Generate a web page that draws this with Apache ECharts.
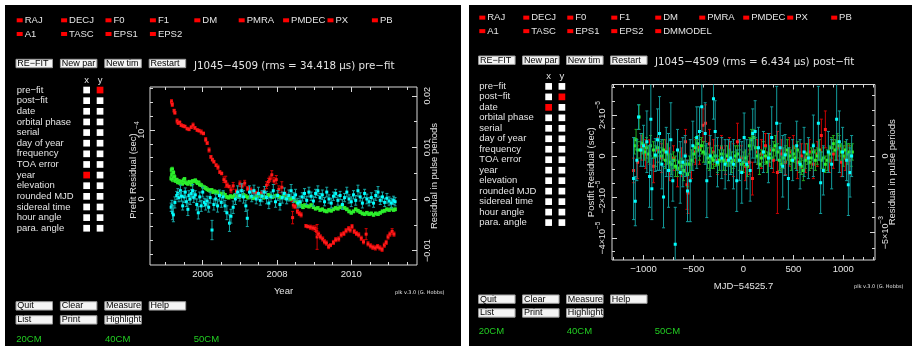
<!DOCTYPE html>
<html><head><meta charset="utf-8">
<script src="https://cdn.jsdelivr.net/npm/echarts@6/dist/echarts.min.js"></script>
<style>html,body{margin:0;padding:0;background:#fff}#c{width:912px;height:350px}</style>
</head><body><div id="c"></div>
<script>
// ---------------- data ----------------
const pulsePeriodUs = 7474.2; // J1045-4509 period in microseconds (for right-hand axis)
const paramRow1 = ['RAJ','DECJ','F0','F1','DM','PMRA','PMDEC','PX','PB'];
const paramRow2Left = ['A1','TASC','EPS1','EPS2'];
const paramRow2Right = ['A1','TASC','EPS1','EPS2','DMMODEL'];
const menuLabels = ['pre−fit','post−fit','date','orbital phase','serial','day of year','frequency','TOA error','year','elevation','rounded MJD','sidereal time','hour angle','para. angle'];
const buttonsTop = ['RE−FIT','New par','New tim','Restart'];
const buttonsBottom1 = ['Quit','Clear','Measure','Help'];
const buttonsBottom2 = ['List','Print','Highlight'];
const flagLabels = ['20CM','40CM','50CM'];
const titleLeft = 'J1045−4509 (rms = 34.418 μs) pre−fit';
const titleRight = 'J1045−4509 (rms = 6.434 μs) post−fit';
const xNameLeft = 'Year';
const xNameRight = 'MJD−54525.7';
const yNameLeft = 'Prefit Residual (sec)';
const yNameRight = 'Postfit Residual (sec)';
const y2Name = 'Residual in pulse periods';
const plkTag = 'plk v.3.0 (G. Hobbs)';

// tick labels
const leftYearLabels = [2006, 2008, 2010];
const leftResLabels = [0, 100];              // microseconds (0, 1e-4 s)
const leftPeriodLabels = [-0.01, 0, 0.01, 0.02];
const rightDayLabels = [-1000, -500, 0, 500, 1000];
const rightResLabels = [-40, -20, 0, 20];    // microseconds
const rightPeriodLabels = [-0.005, 0];

// Left: pre-fit residuals vs year  [year, residual (us), error (us)]
const leftRed = [
[2005.16,141,3],[2005.18,137,3],[2005.23,128,2],[2005.25,125,2],[2005.31,113,3],[2005.34,110,2],[2005.38,111,2],[2005.42,107,2],[2005.47,106,2],[2005.52,105,2],[2005.58,102,2],[2005.63,101,2],[2005.69,104,2],[2005.74,107,3],[2005.79,103,2],[2005.85,100,2],[2005.90,99,2],[2005.96,97,3],[2006.02,95,2],[2006.08,86,3],[2006.12,81,2],[2006.17,71,3],[2006.22,61,2],[2006.26,57,2],[2006.30,54,2],[2006.36,49,2],[2006.41,46,3],[2006.46,39,2],[2006.51,37,2],[2006.57,28,4],[2006.62,25,8],[2006.66,20,3],[2006.71,18,2],[2006.76,13,4],[2006.82,19,5],[2006.91,11,3],[2007.00,22,4],[2007.06,19,3],[2007.13,23,4],[2007.21,15,3],[2007.29,13,3],[2007.37,11,3],[2007.44,8,3],[2007.51,6,3],[2007.59,8,3],[2007.66,11,3],[2007.72,20,5],[2007.77,25,5],[2007.81,29,4],[2007.86,35,6],[2007.92,26,5],[2007.98,28,6],[2008.05,14,5],[2008.13,17,8],[2008.22,6,4],[2008.31,3,3],[2008.40,-1,3],[2008.42,-27,9],[2008.44,-9,4],[2008.49,-11,3],[2008.55,-18,3],[2008.60,-21,3],[2008.65,-23,3],[2008.78,-39,2],[2008.83,-40,2],[2008.90,-41,3],[2008.97,-42,3],[2009.03,-43,4],[2009.07,-47,4],[2009.08,-55,18],[2009.12,-51,3],[2009.17,-55,3],[2009.23,-58,3],[2009.28,-62,3],[2009.33,-64,3],[2009.39,-69,3],[2009.44,-67,2],[2009.52,-63,3],[2009.58,-59,3],[2009.66,-58,3],[2009.73,-52,3],[2009.80,-50,3],[2009.86,-46,3],[2009.93,-43,3],[2009.97,-45,3],[2010.02,-40,3],[2010.08,-47,3],[2010.14,-50,3],[2010.20,-52,3],[2010.27,-57,3],[2010.33,-62,3],[2010.40,-51,8],[2010.45,-65,3],[2010.52,-68,3],[2010.58,-70,3],[2010.65,-71,3],[2010.71,-69,3],[2010.77,-71,3],[2010.83,-73,3],[2010.89,-67,3],[2010.94,-63,3],[2010.99,-55,3],[2011.04,-51,3],[2011.10,-47,4],[2011.15,-51,3]
];
const leftGreen = [
[2005.15,30,3],[2005.16,42,3],[2005.17,35,3],[2005.18,43,3],[2005.19,28,3],[2005.21,38,3],[2005.22,30,3],[2005.24,32,3],[2005.26,27,2],[2005.28,26,2],[2005.30,28,2],[2005.33,24,2],[2005.36,26,2],[2005.39,23,2],[2005.42,25,2],[2005.45,22,2],[2005.48,27,2],[2005.51,29,2],[2005.54,24,2],[2005.57,23,2],[2005.60,22,2],[2005.64,25,2],[2005.67,24,2],[2005.70,21,2],[2005.73,26,2],[2005.77,26,2],[2005.80,27,2],[2005.83,25,2],[2005.86,23,2],[2005.89,24,2],[2005.92,21,2],[2005.96,20,2],[2006.00,18,2],[2006.04,17,2],[2006.08,16,2],[2006.12,14,2],[2006.16,13,2],[2006.20,12,2],[2006.24,13,2],[2006.28,10,2],[2006.32,11,2],[2006.36,9,2],[2006.40,10,2],[2006.45,8,2],[2006.50,7,2],[2006.55,8,2],[2006.60,6,2],[2006.65,3,2],[2006.70,2,2],[2006.75,4,2],[2006.80,3,2],[2006.86,5,2],[2006.92,4,2],[2006.98,3,2],[2007.04,4,2],[2007.10,6,2],[2007.16,4,2],[2007.22,2,2],[2007.28,3,2],[2007.34,1,2],[2007.40,2,2],[2007.46,4,2],[2007.52,5,2],[2007.58,4,2],[2007.64,2,2],[2007.70,3,2],[2007.76,6,2],[2007.82,5,2],[2007.88,3,2],[2007.94,4,2],[2008.00,5,2],[2008.06,3,2],[2008.12,2,2],[2008.18,4,2],[2008.24,1,2],[2008.30,2,2],[2008.36,0,2],[2008.42,1,2],[2008.48,-2,2],[2008.54,-4,2],[2008.58,-8,3],[2008.62,-6,2],[2008.66,-10,2],[2008.70,-12,2],[2008.75,-9,2],[2008.80,-10,2],[2008.86,-11,2],[2008.92,-9,2],[2008.98,-12,2],[2009.04,-14,2],[2009.10,-13,2],[2009.16,-16,2],[2009.22,-15,2],[2009.28,-17,2],[2009.34,-18,2],[2009.40,-16,2],[2009.46,-17,2],[2009.52,-15,2],[2009.58,-13,2],[2009.64,-14,2],[2009.70,-12,2],[2009.76,-10,2],[2009.82,-13,2],[2009.88,-15,2],[2009.94,-18,2],[2010.00,-20,2],[2010.06,-18,2],[2010.12,-15,2],[2010.18,-17,2],[2010.24,-19,2],[2010.30,-21,2],[2010.36,-22,2],[2010.42,-20,2],[2010.48,-22,2],[2010.54,-21,2],[2010.60,-23,2],[2010.66,-21,2],[2010.72,-22,2],[2010.78,-20,2],[2010.84,-18,2],[2010.90,-17,2],[2010.96,-15,2],[2011.02,-16,2],[2011.08,-14,2],[2011.14,-16,2],[2011.18,-15,2]
];
const leftCyan = [
[2005.15,-12,6],[2005.17,-10,8],[2005.19,-20,10],[2005.21,-23,10],[2005.25,-5,8],[2005.30,5,6],[2005.33,8,7],[2005.36,2,6],[2005.40,12,8],[2005.43,4,7],[2005.46,-10,6],[2005.50,3,8],[2005.53,10,6],[2005.56,-4,7],[2005.60,-15,9],[2005.63,5,7],[2005.66,0,8],[2005.70,8,6],[2005.73,12,9],[2005.76,2,7],[2005.80,6,6],[2005.84,-8,8],[2005.88,-20,9],[2005.92,3,7],[2005.96,-10,8],[2006.00,10,7],[2006.04,-5,6],[2006.08,-8,8],[2006.12,-3,7],[2006.16,-12,7],[2006.20,2,8],[2006.25,-45,14],[2006.30,-8,8],[2006.35,0,7],[2006.40,-10,9],[2006.45,5,8],[2006.50,-5,7],[2006.55,3,9],[2006.60,-10,8],[2006.65,-20,10],[2006.72,-35,12],[2006.76,-25,10],[2006.82,-12,9],[2006.88,0,8],[2006.94,10,9],[2007.00,5,8],[2007.05,12,10],[2007.10,3,9],[2007.16,-10,8],[2007.20,-28,12],[2007.26,10,9],[2007.32,4,8],[2007.38,12,8],[2007.44,0,7],[2007.50,8,9],[2007.55,-2,7],[2007.60,4,8],[2007.66,10,8],[2007.72,2,9],[2007.78,-6,8],[2007.84,3,7],[2007.90,12,9],[2007.96,-4,8],[2008.02,5,7],[2008.08,-8,8],[2008.14,2,8],[2008.20,8,8],[2008.26,0,7],[2008.32,5,8],[2008.38,12,9],[2008.44,2,7],[2008.50,6,8],[2008.56,-6,7],[2008.62,-4,8],[2008.68,3,6],[2008.74,8,7],[2008.80,-2,6],[2008.86,10,7],[2008.92,4,6],[2008.98,-3,7],[2009.04,8,6],[2009.10,12,7],[2009.16,2,6],[2009.22,6,7],[2009.28,-4,6],[2009.34,10,7],[2009.40,0,6],[2009.46,-6,7],[2009.52,4,6],[2009.58,8,6],[2009.64,-2,7],[2009.70,5,6],[2009.76,-8,7],[2009.82,2,6],[2009.88,10,7],[2009.94,0,6],[2010.00,-4,7],[2010.06,6,6],[2010.12,-2,7],[2010.18,12,8],[2010.24,3,6],[2010.30,-6,7],[2010.36,8,6],[2010.42,0,7],[2010.48,-4,6],[2010.54,2,7],[2010.60,-6,6],[2010.66,5,7],[2010.72,10,8],[2010.78,-2,6],[2010.84,3,7],[2010.90,-5,6],[2010.96,1,7],[2011.02,-3,6],[2011.08,-6,7],[2011.14,-2,6],[2011.18,-4,6]
];

// Right: post-fit residuals vs MJD-54525.7  [days, residual (us), error (us)]
const rightRed = [
[-1100,-7,6],[-1060,-3,8],[-1020,4,6],[-980,1,7],[-940,2,6],[-900,-5,8],[-860,3,6],[-820,-1,7],[-780,2,6],[-740,-4,8],[-700,-1,6],[-660,-6,9],[-620,-3,7],[-580,7,6],[-565,-14,12],[-555,-18,10],[-520,-4,7],[-480,2,6],[-440,4,8],[-405,15,8],[-380,16,9],[-340,6,7],[-300,2,6],[-260,-2,7],[-220,4,6],[-180,-2,7],[-140,3,6],[-100,-2,8],[-60,7,9],[-20,-1,6],[20,-5,7],[60,-3,6],[90,-11,8],[140,2,6],[180,1,7],[220,5,6],[260,3,8],[300,-2,6],[340,-8,20],[380,1,7],[420,-3,6],[460,2,7],[500,4,6],[540,-3,8],[580,0,6],[620,-1,7],[660,2,6],[700,-4,7],[740,1,6],[780,10,8],[820,13,9],[860,-2,6],[900,1,7],[940,4,6],[980,-3,7],[1020,-1,6],[1060,-2,7]
];
const rightGreen = [
[-1090,5,4],[-1075,8,5],[-1060,3,4],[-1045,19,6],[-1030,3,4],[-1010,6,5],[-990,2,4],[-970,4,5],[-950,1,4],[-930,5,5],[-900,3,4],[-880,0,5],[-860,4,4],[-840,2,5],[-820,0,4],[-800,3,5],[-780,-2,4],[-760,1,5],[-740,-3,4],[-720,-4,5],[-700,-2,4],[-680,-5,5],[-660,-6,4],[-640,-3,5],[-620,-5,4],[-600,-7,5],[-580,-4,4],[-560,-9,6],[-540,-4,4],[-520,-2,5],[-500,1,4],[-480,4,5],[-460,6,4],[-440,3,5],[-420,5,4],[-400,2,5],[-380,1,4],[-360,-1,5],[-340,-3,4],[-320,-1,5],[-300,-2,4],[-280,0,5],[-260,-4,4],[-240,-2,5],[-220,1,4],[-200,-2,5],[-180,-3,4],[-160,0,5],[-140,-1,4],[-120,-3,5],[-100,-2,4],[-80,0,5],[-60,1,4],[-40,-2,5],[-20,-4,4],[0,-3,5],[20,-1,4],[40,-5,5],[60,5,4],[80,8,5],[100,9,4],[120,4,5],[140,0,4],[160,-4,5],[180,-1,4],[200,2,5],[220,0,4],[240,-3,5],[260,1,4],[280,-1,5],[300,3,4],[320,5,5],[340,2,4],[360,-2,5],[380,-4,4],[400,-1,5],[420,1,4],[440,3,5],[460,0,4],[480,-2,5],[500,1,4],[520,-1,5],[540,3,4],[560,-3,5],[580,-5,4],[600,-7,5],[620,-2,4],[640,1,5],[660,-3,4],[680,-1,5],[700,2,4],[720,-2,5],[740,0,4],[760,3,5],[780,-2,4],[800,-1,5],[820,-4,4],[840,-2,5],[860,1,4],[880,4,5],[900,6,4],[920,3,5],[940,7,4],[960,5,5],[980,2,4],[1000,0,5],[1020,3,4],[1040,1,5],[1060,2,4],[1080,0,5],[1090,2,4]
];
const rightCyan = [
[-1100,-11,20],[-1083,-22,12],[-1067,-2,10],[-1050,19,6],[-1027,3,8],[-1000,5,10],[-967,7,15],[-940,-10,15],[-927,18,25],[-917,-16,15],[-883,0.5,8],[-860,8,15],[-840,11,18],[-817,-4,12],[-800,-20,15],[-773,2,12],[-750,-7,18],[-727,8,18],[-707,-12,10],[-683,-43,18],[-660,3,10],[-633,-8,15],[-607,-3,12],[-583,0,10],[-560,-17,15],[-533,-12,20],[-507,5,12],[-467,9,15],[-440,12,12],[-417,24,12],[-383,11,15],[-367,-12,18],[-333,0,10],[-300,28,10],[-283,12,15],[-260,-3,12],[-217,-1,10],[-183,-4,12],[-150,-2,10],[-127,-1,8],[-100,-4,12],[-67,-12,15],[-40,-2,10],[-17,-8,15],[7,9,12],[33,-4,12],[67,-7,15],[93,11,12],[117,12,15],[150,4,10],[200,2,10],[250,-1,12],[283,9,15],[333,16,18],[367,4,12],[393,-5,15],[417,0.5,10],[450,-11,15],[493,-2,10],[533,5,12],[567,-4,12],[607,2,12],[650,-1,10],[700,5,15],[750,16,18],[773,-13,15],[800,-7,12],[850,2,10],[883,-4,12],[933,18,20],[960,7,15],[993,2,12],[1033,-2,10],[1050,-14,15],[1067,-8,12],[1083,0,10]
];

// ---------------- style ----------------
const FONT = '"DejaVu Sans", sans-serif';
const FONT_N = '"Liberation Sans", sans-serif';
const TXT = '#e4e4e4';
const FRAME = '#d8d8d8';
const RED = '#ff0000';
const GREEN_FLAG = '#22cc22';

// ---------------- UI graphics ----------------
function buildUI(tx, ty, cfg) {
  const out = [];
  const col = i => 16.7 + i * 44.4;
  const text = (s, x, y, o) => ({ type: 'text', z: 50, style: Object.assign({ text: s, x: tx(x), y: ty(y), fill: TXT, font: '9.5px ' + FONT_N, verticalAlign: 'middle', align: 'left' }, o || {}) });
  const box = (x, y, w, h, fill, stroke) => ({ type: 'rect', z: 40, shape: { x: tx(x), y: ty(y), width: w, height: h }, style: { fill: fill, stroke: stroke || null, lineWidth: stroke ? 1 : 0 } });
  paramRow1.forEach((n, i) => { out.push(box(col(i), 18.3, 6, 4, RED)); out.push(text(n, col(i) + 8, 20.5)); });
  cfg.row2.forEach((n, i) => { out.push(box(col(i), 32, 6, 4, RED)); out.push(text(n, col(i) + 8, 34.2)); });
  const btn = { fill: '#000', font: '9px ' + FONT_N };
  buttonsTop.forEach((n, i) => { out.push(box(col(i) - 0.7, 59.3, 36.5, 8.4, '#f4f4f4', '#9a9a9a')); out.push(text(n, col(i) + 0.6, 63.7, btn)); });
  out.push(text(cfg.title, 194, 66, { font: '10.3px ' + FONT }));
  out.push(text('x', 86.7, 80, { align: 'center' }));
  out.push(text('y', 100, 80, { align: 'center' }));
  menuLabels.forEach((n, i) => {
    const yc = 90 + i * 10.63;
    out.push(text(n, 16.7, yc));
    out.push(box(83.3, yc - 3.3, 6.7, 6.7, cfg.selX === i ? RED : '#fff'));
    out.push(box(96.7, yc - 3.3, 6.7, 6.7, cfg.selY === i ? RED : '#fff'));
  });
  buttonsBottom1.forEach((n, i) => { out.push(box(col(i) - 0.7, 301.7, 36.5, 8.4, '#f4f4f4', '#9a9a9a')); out.push(text(n, col(i) + 0.6, 306, btn)); });
  buttonsBottom2.forEach((n, i) => { out.push(box(col(i) - 0.7, 315.7, 36.5, 8.4, '#f4f4f4', '#9a9a9a')); out.push(text(n, col(i) + 0.6, 320, btn)); });
  flagLabels.forEach((n, i) => out.push(text(n, col(2 * i) - 0.5, 339, { fill: GREEN_FLAG })));
  out.push(text(plkTag, 395, 293, { font: '5px ' + FONT }));
  return out;
}
const idL = v => v;
const graphics = [
  { type: 'rect', z: -100, shape: { x: 5, y: 5, width: 456, height: 341 }, style: { fill: '#000' } },
  { type: 'rect', z: -100, shape: { x: 469, y: 5, width: 443, height: 341 }, style: { fill: '#000' } }
].concat(
  buildUI(idL, idL, { row2: paramRow2Left, title: titleLeft, selX: 8, selY: 0 }),
  buildUI(x => x * 0.9907 + 462.75, y => y * 0.9856 - 2.41, { row2: paramRow2Right, title: titleRight, selX: 2, selY: 1 })
);

// ---------------- axes ----------------
function steps(a, b, s) { const r = []; for (let v = a; v <= b + 1e-9; v += s) r.push(+v.toFixed(6)); return r; }
const rich = {
  n: { fontSize: 9, fontFamily: FONT_N, color: TXT, lineHeight: 12, verticalAlign: 'bottom' },
  s: { fontSize: 6.5, fontFamily: FONT_N, color: TXT, lineHeight: 12, verticalAlign: 'top' }
};
const nameStyle = { color: TXT, fontSize: 9.5, fontFamily: FONT_N };
function ax(o) {
  const base = { type: 'value', scale: true, splitLine: { show: false }, axisLine: { show: false, onZero: false },
    axisTick: { show: false }, axisLabel: { show: false }, nameMoveOverlap: false };
  return Object.assign(base, o);
}
function tickAxis(grid, pos, min, max, vals, len) {
  return ax({ gridIndex: grid, position: pos, min: min, max: max,
    axisTick: { show: true, inside: true, length: len, customValues: vals, lineStyle: { color: FRAME, width: 1 } } });
}
function labelAxis(grid, pos, min, max, vals, fmt, extra) {
  const a = tickAxis(grid, pos, min, max, vals, 5);
  a.axisLabel = Object.assign({ show: true, customValues: vals, formatter: fmt, rich: rich, color: TXT, fontSize: 9.5, fontFamily: FONT_N,
    hideOverlap: false, showMinLabel: true, showMaxLabel: true }, extra.label);
  a.name = extra.name; a.nameLocation = 'middle'; a.nameGap = extra.nameGap;
  a.nameTextStyle = nameStyle; a.nameRotate = extra.nameRotate;
  return a;
}

const L = { xMin: 2004.58, xMax: 2011.77, yMin: -95.7, yMax: 162.3 };
const R = { xMin: -1316, xMax: 1317, yMin: -50.7, yMax: 34.9 };
L.pMin = L.yMin / pulsePeriodUs; L.pMax = L.yMax / pulsePeriodUs;
R.pMin = R.yMin / pulsePeriodUs; R.pMax = R.yMax / pulsePeriodUs;

const fmtLeftRes = v => v === 0 ? '{n|0}' : '{n|10}{s|−4}';
const fmtRightRes = v => v === 0 ? '{n|0}' : '{n|' + (v < 0 ? '−' : '') + Math.abs(v / 10) + '×10}{s|−5}';
const fmtLeftPer = v => '{n|' + (v < 0 ? '−' : '') + (v === 0 ? '0' : Math.abs(v).toFixed(2)) + '}';
const fmtRightPer = v => v === 0 ? '{n|0}' : '{n|−5×10}{s|−3}';
const fmtNum = v => (v < 0 ? '−' : '') + Math.abs(v);

const xAxes = [
  labelAxis(0, 'bottom', L.xMin, L.xMax, leftYearLabels, v => String(v), { label: { margin: 4 }, name: xNameLeft, nameGap: 21 }),
  tickAxis(0, 'bottom', L.xMin, L.xMax, steps(2005, 2011.5, 0.5), 3),
  tickAxis(0, 'top', L.xMin, L.xMax, leftYearLabels, 5),
  tickAxis(0, 'top', L.xMin, L.xMax, steps(2005, 2011.5, 0.5), 3),
  labelAxis(1, 'bottom', R.xMin, R.xMax, rightDayLabels, fmtNum, { label: { margin: 4 }, name: xNameRight, nameGap: 21 }),
  tickAxis(1, 'bottom', R.xMin, R.xMax, steps(-1300, 1300, 100), 3),
  tickAxis(1, 'top', R.xMin, R.xMax, rightDayLabels, 5),
  tickAxis(1, 'top', R.xMin, R.xMax, steps(-1300, 1300, 100), 3)
];
const yAxes = [
  labelAxis(0, 'left', L.yMin, L.yMax, leftResLabels, fmtLeftRes, { label: { rotate: 90, margin: 4 }, name: yNameLeft, nameGap: 12, nameRotate: 90 }),
  tickAxis(0, 'left', L.yMin, L.yMax, steps(-80, 160, 20), 3),
  labelAxis(0, 'right', L.pMin, L.pMax, leftPeriodLabels, fmtLeftPer, { label: { rotate: 90, margin: 3 }, name: y2Name, nameGap: 12, nameRotate: 90 }),
  tickAxis(0, 'right', L.pMin, L.pMax, steps(-0.01, 0.02, 0.005), 3),
  labelAxis(1, 'left', R.yMin, R.yMax, rightResLabels, fmtRightRes, { label: { rotate: 90, margin: 5 }, name: yNameRight, nameGap: 16, nameRotate: 90 }),
  tickAxis(1, 'left', R.yMin, R.yMax, steps(-46.6667, 33.34, 20 / 3), 3),
  labelAxis(1, 'right', R.pMin, R.pMax, rightPeriodLabels, fmtRightPer, { label: { rotate: 90, margin: 3 }, name: y2Name, nameGap: 12, nameRotate: 90 }),
  tickAxis(1, 'right', R.pMin, R.pMax, steps(-0.006, 0.004, 0.001), 3)
];

// ---------------- series ----------------
function errSeries(data, grid, marker, bar, size) {
  return {
    type: 'custom', xAxisIndex: grid * 4, yAxisIndex: grid * 4, data: data, z: 5,
    renderItem: function (params, api) {
      const x = api.value(0), y = api.value(1), e = api.value(2);
      const p = api.coord([x, y]);
      const t = api.coord([x, y + e]);
      const b = api.coord([x, y - e]);
      const cs = params.coordSys;
      const cap = 1.5;
      return {
        type: 'group',
        clipPath: { type: 'rect', shape: { x: cs.x, y: cs.y, width: cs.width, height: cs.height } },
        children: [
          { type: 'line', shape: { x1: p[0], y1: t[1], x2: p[0], y2: b[1] }, style: { stroke: bar, lineWidth: 1 } },
          { type: 'line', shape: { x1: p[0] - cap, y1: t[1], x2: p[0] + cap, y2: t[1] }, style: { stroke: bar, lineWidth: 1 } },
          { type: 'line', shape: { x1: p[0] - cap, y1: b[1], x2: p[0] + cap, y2: b[1] }, style: { stroke: bar, lineWidth: 1 } },
          { type: 'rect', shape: { x: p[0] - size / 2, y: p[1] - size / 2, width: size, height: size }, style: { fill: marker } }
        ]
      };
    }
  };
}

const option = {
  backgroundColor: '#ffffff',
  animation: false,
  grid: [
    { left: 150, top: 87, width: 267, height: 178, show: true, borderColor: FRAME, borderWidth: 1, backgroundColor: 'transparent', containLabel: false, outerBoundsMode: 'none' },
    { left: 612, top: 84.5, width: 263, height: 175.5, show: true, borderColor: FRAME, borderWidth: 1, backgroundColor: 'transparent', containLabel: false, outerBoundsMode: 'none' }
  ],
  xAxis: xAxes,
  yAxis: yAxes,
  graphic: { elements: graphics },
  series: [
    errSeries(leftRed, 0, '#ff1a1a', '#d40000', 3),
    errSeries(leftGreen, 0, '#2cf02c', '#1fae1f', 3.5),
    errSeries(leftCyan, 0, '#00ffff', '#16a6a6', 3),
    errSeries(rightRed, 1, '#ff1a1a', '#c80000', 3),
    errSeries(rightGreen, 1, '#2cf02c', '#1fa81f', 3),
    errSeries(rightCyan, 1, '#00ffff', '#129c9c', 3)
  ]
};
const chart = echarts.init(document.getElementById('c'), null, { renderer: 'canvas' });
chart.setOption(option);
</script>
</body></html>
